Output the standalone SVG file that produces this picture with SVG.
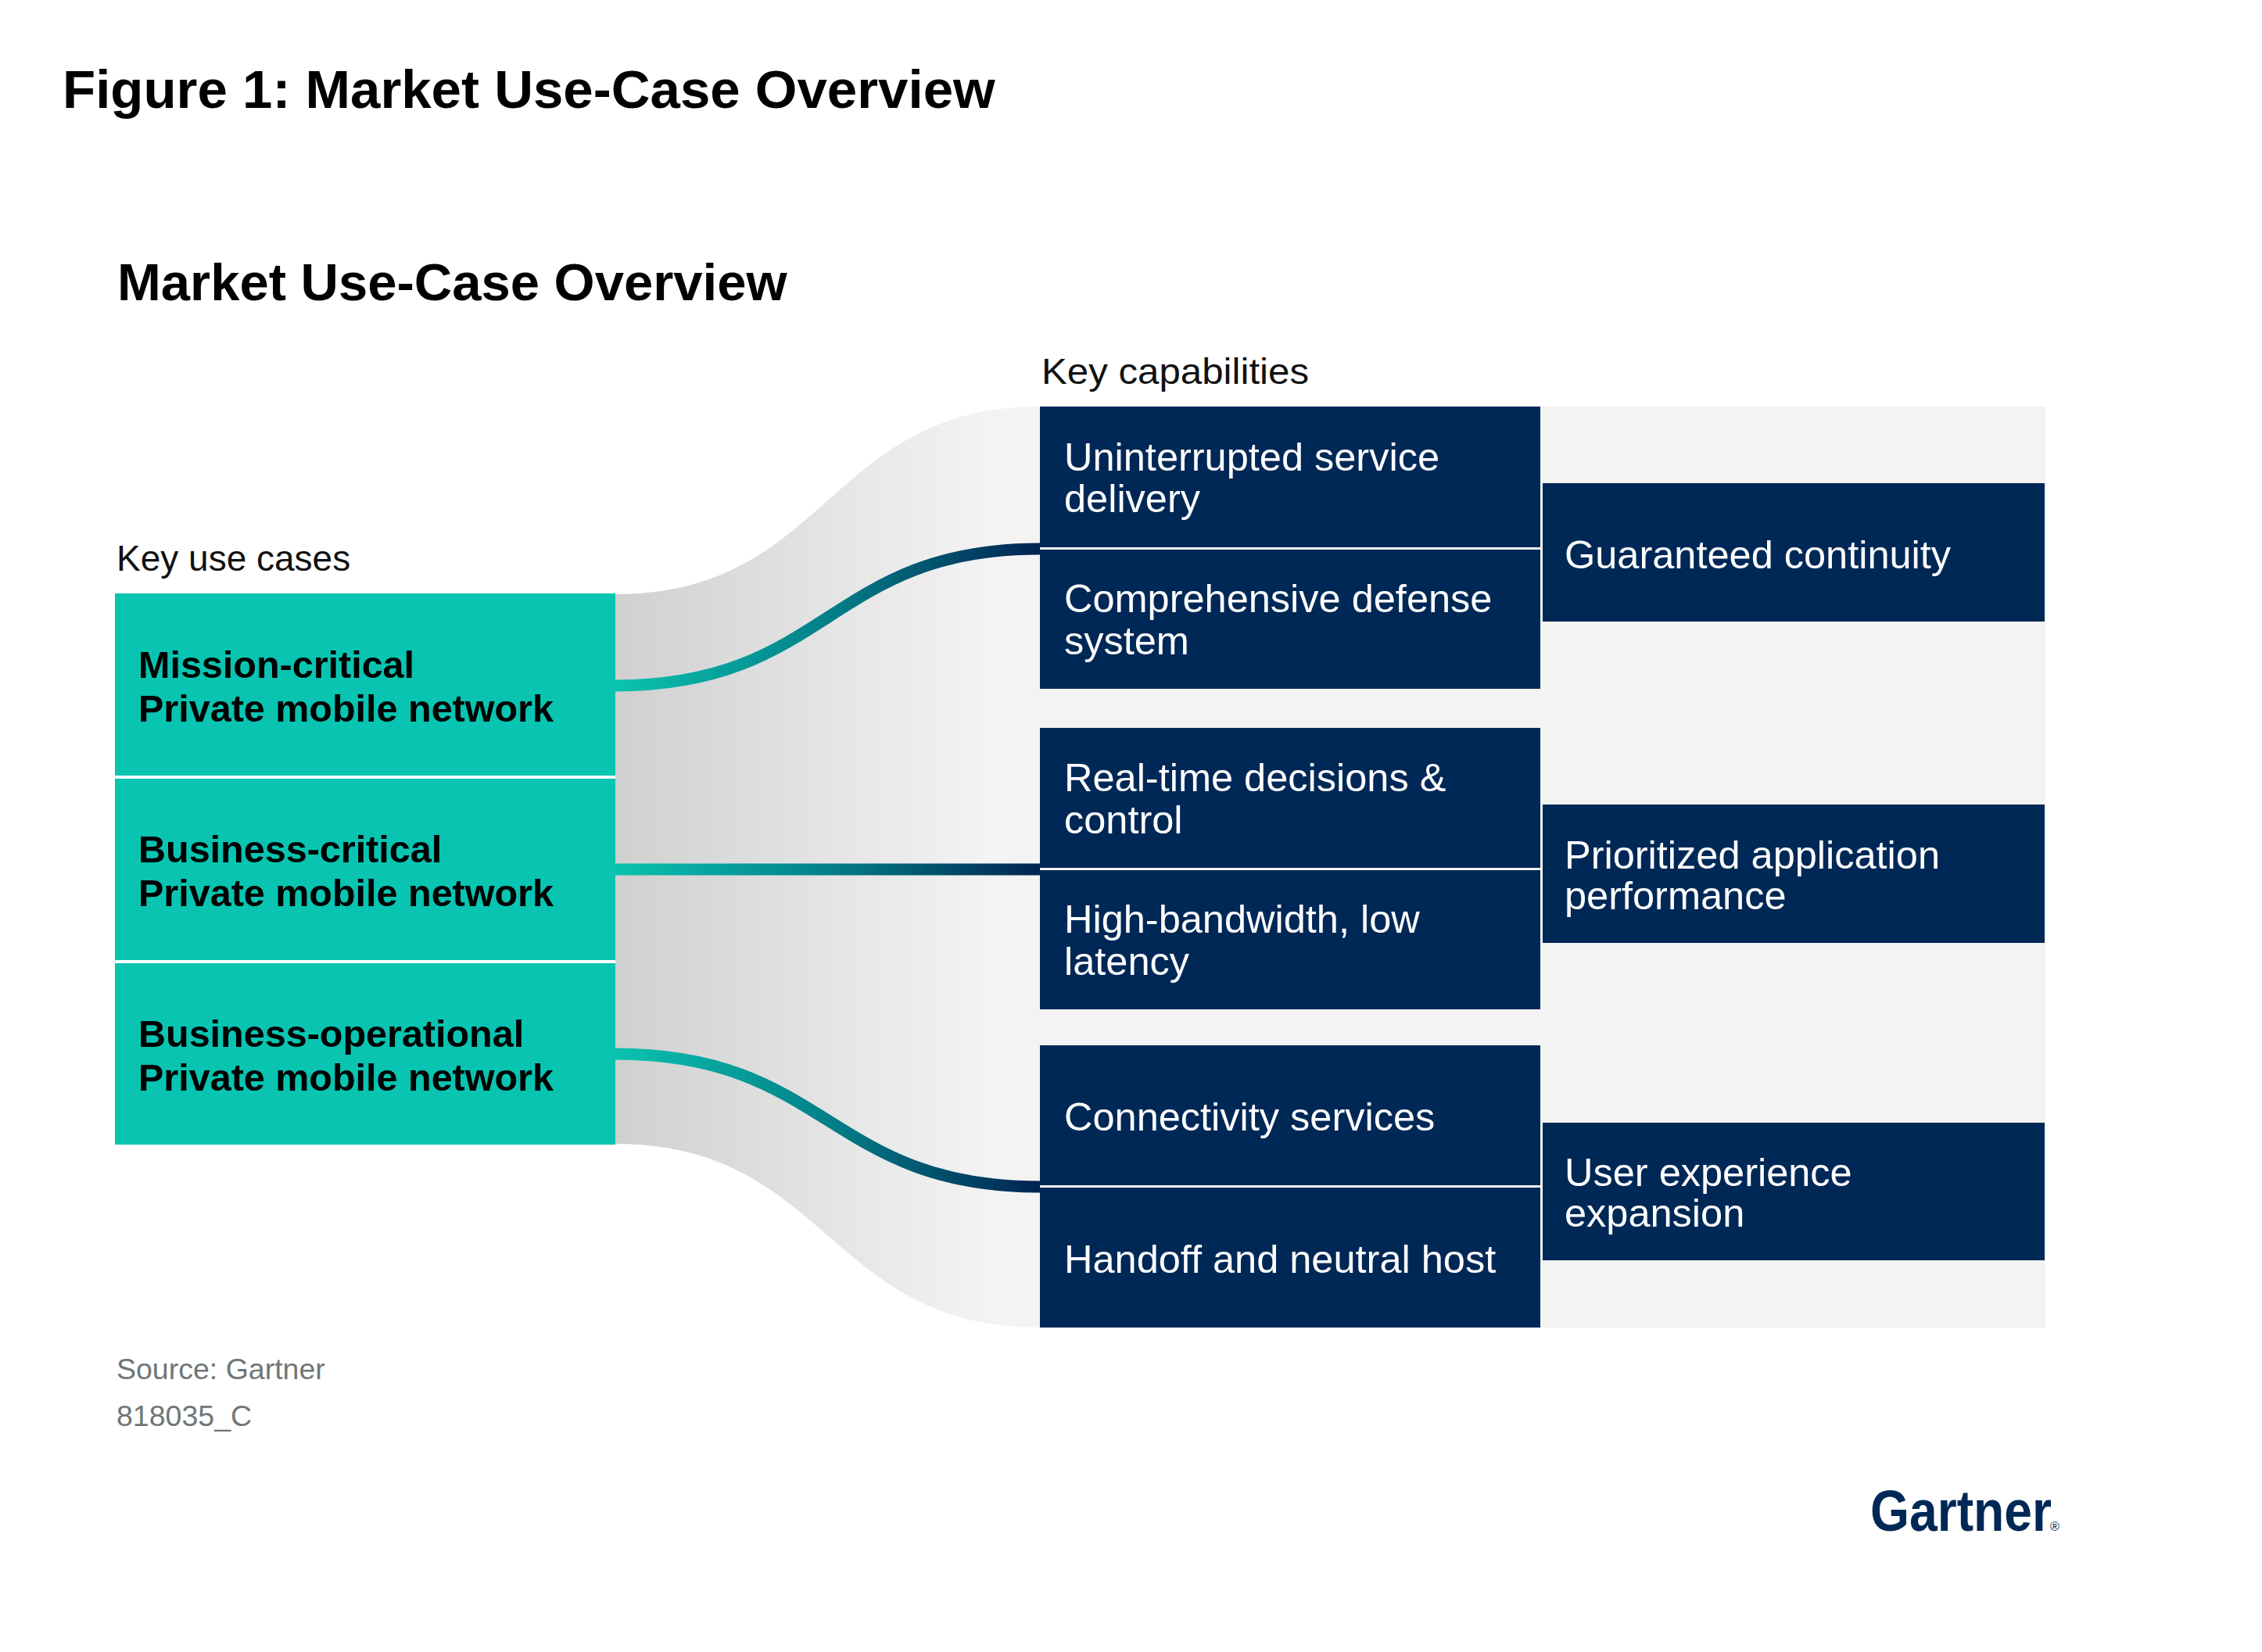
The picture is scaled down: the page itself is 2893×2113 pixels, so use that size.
<svg xmlns="http://www.w3.org/2000/svg" width="2893" height="2113" viewBox="0 0 2893 2113">
  <style>
    .title { font-family: "Liberation Sans", Arial, sans-serif; font-weight: bold; fill: #000; }
    .label { font-family: "Liberation Sans", Arial, sans-serif; font-size: 46px; fill: #111; }
    .teal { fill: #08c4b1; }
    .navy { fill: #002856; }
    .tealtxt { font-family: "Liberation Sans", Arial, sans-serif; font-weight: bold; font-size: 48.5px; fill: #000; }
    .navytxt { font-family: "Liberation Sans", Arial, sans-serif; font-size: 50.5px; fill: #fff; }
    .src { font-family: "Liberation Sans", Arial, sans-serif; font-size: 37.5px; fill: #6e7777; }
    .conn { fill: none; stroke-width: 15; stroke-linecap: butt; }
  </style>
  <defs>
    <linearGradient id="bandGrad" gradientUnits="userSpaceOnUse" x1="787" y1="0" x2="1260" y2="0">
      <stop offset="0" stop-color="#d0d0d0"/>
      <stop offset="1" stop-color="#f3f3f3"/>
    </linearGradient>
    <linearGradient id="connGrad" gradientUnits="userSpaceOnUse" x1="787" y1="0" x2="1330" y2="0">
      <stop offset="0" stop-color="#0bc2af"/>
      <stop offset="0.5" stop-color="#038089"/>
      <stop offset="1" stop-color="#002352"/>
    </linearGradient>
  </defs>
  <rect width="2893" height="2113" fill="#fff"/>

  <g id="titles">
    <text class="title" x="80" y="138" font-size="69">Figure 1: Market Use-Case Overview</text>
    <text class="title" x="150" y="384" font-size="67">Market Use-Case Overview</text>
    <text class="label" x="149" y="730">Key use cases</text>
    <text class="label" x="1332" y="491" textLength="342" lengthAdjust="spacingAndGlyphs">Key capabilities</text>
  </g>

  <g id="background-band">
    <path d="M787,760 C1059,760 1059,520 1330,520 L2616,520 L2616,1698 L1330,1698 C1059,1698 1059,1463 787,1463 Z" fill="url(#bandGrad)"/>
  </g>

  <g id="use-case-mission-critical">
    <rect class="teal" x="147" y="759" width="640" height="233"/>
    <text class="tealtxt" x="177" y="867">Mission-critical</text>
    <text class="tealtxt" x="177" y="923">Private mobile network</text>
  </g>
  <g id="use-case-business-critical">
    <rect class="teal" x="147" y="996" width="640" height="232"/>
    <text class="tealtxt" x="177" y="1103">Business-critical</text>
    <text class="tealtxt" x="177" y="1159">Private mobile network</text>
  </g>
  <g id="use-case-business-operational">
    <rect class="teal" x="147" y="1232" width="640" height="232"/>
    <text class="tealtxt" x="177" y="1339">Business-operational</text>
    <text class="tealtxt" x="177" y="1395">Private mobile network</text>
  </g>

  <g id="connectors">
    <path class="conn" stroke="url(#connGrad)" d="M787,877 C1059,877 1059,702 1330,702"/>
    <path class="conn" stroke="url(#connGrad)" d="M787,1112 L1330,1112"/>
    <path class="conn" stroke="url(#connGrad)" d="M787,1348 C1059,1348 1059,1518 1330,1518"/>
  </g>

  <g id="cap-uninterrupted">
    <rect class="navy" x="1330" y="520" width="640" height="180"/>
    <text class="navytxt" x="1361" y="602">Uninterrupted service</text>
    <text class="navytxt" x="1361" y="655">delivery</text>
  </g>
  <g id="cap-defense">
    <rect class="navy" x="1330" y="703" width="640" height="178"/>
    <text class="navytxt" x="1361" y="783">Comprehensive defense</text>
    <text class="navytxt" x="1361" y="837">system</text>
  </g>
  <g id="cap-realtime">
    <rect class="navy" x="1330" y="931" width="640" height="179"/>
    <text class="navytxt" x="1361" y="1012">Real-time decisions &amp;</text>
    <text class="navytxt" x="1361" y="1066">control</text>
  </g>
  <g id="cap-bandwidth">
    <rect class="navy" x="1330" y="1113" width="640" height="178"/>
    <text class="navytxt" x="1361" y="1193">High-bandwidth, low</text>
    <text class="navytxt" x="1361" y="1247">latency</text>
  </g>
  <g id="cap-connectivity">
    <rect class="navy" x="1330" y="1337" width="640" height="179"/>
    <text class="navytxt" x="1361" y="1446">Connectivity services</text>
  </g>
  <g id="cap-handoff">
    <rect class="navy" x="1330" y="1519" width="640" height="179"/>
    <text class="navytxt" x="1361" y="1628">Handoff and neutral host</text>
  </g>

  <g id="outcome-continuity">
    <rect class="navy" x="1973" y="618" width="642" height="177"/>
    <text class="navytxt" x="2001" y="727">Guaranteed continuity</text>
  </g>
  <g id="outcome-performance">
    <rect class="navy" x="1973" y="1029" width="642" height="177"/>
    <text class="navytxt" x="2001" y="1111">Prioritized application</text>
    <text class="navytxt" x="2001" y="1163">performance</text>
  </g>
  <g id="outcome-ux">
    <rect class="navy" x="1973" y="1436" width="642" height="176"/>
    <text class="navytxt" x="2001" y="1517">User experience</text>
    <text class="navytxt" x="2001" y="1569">expansion</text>
  </g>

  <g id="footer">
    <text class="src" x="149" y="1764">Source: Gartner</text>
    <text class="src" x="149" y="1824">818035_C</text>
    <text x="2392" y="1958" font-family="Liberation Sans, Arial, sans-serif" font-weight="bold" font-size="74" fill="#002856" textLength="232" lengthAdjust="spacingAndGlyphs">Gartner</text>
    <text x="2622" y="1958" font-family="Liberation Sans, Arial, sans-serif" font-size="16" fill="#002856">®</text>
  </g>
</svg>
